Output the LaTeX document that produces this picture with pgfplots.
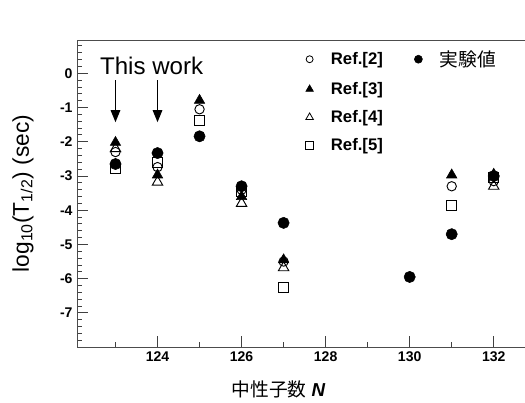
\documentclass[border=0pt]{standalone}
\usepackage{pgfplots}
\pgfplotsset{compat=1.18}
\usepackage{fontspec}
\setmainfont{Liberation Sans}
\newfontfamily\cjk{Noto Sans CJK JP}
\usetikzlibrary{arrows.meta}

\begin{document}
\begin{tikzpicture}
\useasboundingbox (0,0) rectangle (392.5pt,300.75pt);
\begin{axis}[
    at={(57.75pt,41.25pt)}, anchor=south west,
    scale only axis,
    width=335.25pt, height=229.5pt,
    xmin=122.09, xmax=132.76,
    ymin=-8, ymax=0.97,
    axis line style={draw=black!70, line width=0.8pt},
    tick pos=left, tick align=inside,
    tick style={black!75, line width=0.7pt},
    major tick length=8pt, minor tick length=3.5pt,
    xtick={124,126,128,130,132},
    xticklabels={124,126,128,130,132},
    minor xtick={123,125,127,129,131},
    ytick={-7,-6,-5,-4,-3,-2,-1,0},
    yticklabels={-7,-6,-5,-4,-3,-2,-1,0},
    minor ytick={-7.8,-7.6,...,0.81},
    tick label style={font=\bfseries\fontsize{10.5}{12}\selectfont},
    xlabel={{\cjk 中性子数} \textbf{\textit{N}}},
    xlabel style={font=\fontsize{14}{16}\selectfont, at={(axis description cs:0.449,-0.137)}, anchor=center},
    ylabel={log\textsubscript{10}(T\textsubscript{1/2}) (sec)},
    ylabel style={font=\fontsize{17}{19}\selectfont, at={(axis description cs:-0.121,0.5)}, anchor=center},
    clip=false,
    legend columns=2,
    legend cell align=left,
    legend style={draw=none, fill=none, at={(axis description cs:0.5,0.985)}, anchor=north west,
        font=\bfseries\fontsize{12.5}{14}\selectfont, row sep=6.5pt,
        /tikz/every odd column/.append style={column sep=11pt},
        /tikz/every even column/.append style={column sep=16pt}},
]
% Ref.[5]
\addplot[only marks, mark=square, mark size=3.7pt, mark options={fill=white, line width=0.7pt}, forget plot] coordinates {
    (123,-2.77) (124,-2.6) (125,-1.37) (126,-3.45) (127,-6.27) (131,-3.87) (132,-3.05)
};
% Ref.[4]
\addplot[only marks, mark=triangle, mark size=4.5pt, mark options={fill=white, line width=0.7pt}, forget plot] coordinates {
    (123,-2.2) (124,-3.18) (126,-3.8) (127,-5.68) (132,-3.3)
};
% Ref.[2]
\addplot[only marks, mark=o, mark size=3.5pt, mark options={fill=white, line width=0.7pt}, forget plot] coordinates {
    (123,-2.3) (124,-2.74) (125,-1.05) (126,-3.4) (127,-5.5) (131,-3.3) (132,-3.15)
};
% Ref.[3]
\addplot[only marks, mark=triangle*, mark size=4.5pt, mark options={fill=black}, forget plot] coordinates {
    (123,-2.02) (124,-2.97) (125,-0.79) (126,-3.6) (127,-5.45) (131,-2.97) (132,-2.95)
};
% experiment
\addplot[only marks, mark=*, mark size=4.2pt, mark options={fill=black}, forget plot] coordinates {
    (123,-2.65) (124,-2.33) (125,-1.84) (126,-3.3) (127,-4.37) (130,-5.95) (131,-4.7) (132,-3.0)
};

\addlegendimage{only marks, mark=o, mark size=2.6pt, mark options={line width=0.6pt}}
\addlegendentry{Ref.[2]}
\addlegendimage{only marks, mark=*, mark size=3pt}
\addlegendentry{\mdseries\fontsize{14}{16}\selectfont\cjk 実験値}
\addlegendimage{only marks, mark=triangle*, mark size=3.3pt}
\addlegendentry{Ref.[3]}
\addlegendimage{empty legend}
\addlegendentry{}
\addlegendimage{only marks, mark=triangle, mark size=3.3pt, mark options={line width=0.6pt}}
\addlegendentry{Ref.[4]}
\addlegendimage{empty legend}
\addlegendentry{}
\addlegendimage{only marks, mark=square, mark size=2.9pt, mark options={line width=0.6pt}}
\addlegendentry{Ref.[5]}

\node[font=\fontsize{18}{20}\selectfont] at (axis cs:123.86,0.23) {This work};
\draw[line width=1.3pt, -{Triangle[length=9pt,width=7pt]}] (axis cs:123,-0.2) -- (axis cs:123,-1.43);
\draw[line width=1.3pt, -{Triangle[length=9pt,width=7pt]}] (axis cs:124,-0.2) -- (axis cs:124,-1.43);
\end{axis}
\end{tikzpicture}
\end{document}
